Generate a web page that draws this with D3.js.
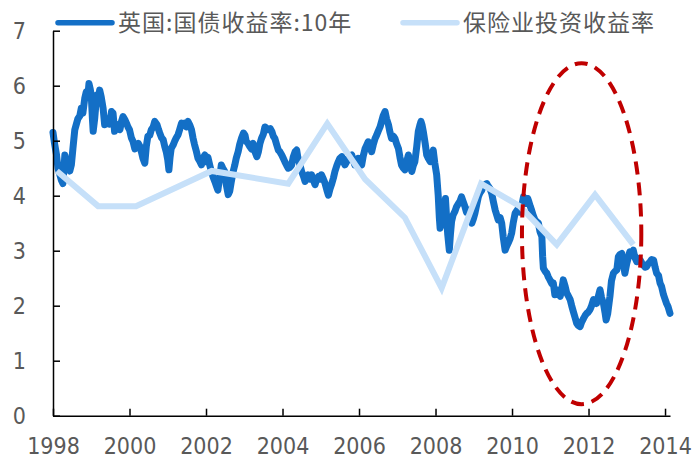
<!DOCTYPE html>
<html>
<head>
<meta charset="utf-8">
<script src="https://cdn.jsdelivr.net/npm/d3@7"></script>
<style>
  body { margin: 0; background: #fff; }
  svg { display: block; }
  .axis text { font-family: "DejaVu Sans Condensed", "Liberation Sans", sans-serif; font-size: 23px; fill: #595959; }
  .axis path, .axis line { stroke: #000; stroke-width: 1.5; }
  .legend text { font-family: "Noto Sans CJK SC", sans-serif; font-size: 23px; fill: #595959; letter-spacing: 1px; }
</style>
</head>
<body>
<svg id="chart" width="693" height="459"></svg>
<script>
// Axis ticks
const yearTicks = [1998, 2000, 2002, 2004, 2006, 2008, 2010, 2012, 2014];
const yieldTicks = [0, 1, 2, 3, 4, 5, 6, 7];

// Series names
const seriesNames = ["英国:国债收益率:10年", "保险业投资收益率"];

// UK 10-year gilt yield, [decimal year, %]
const giltYield = [
  [1998.00,5.15],[1998.04,4.95],[1998.09,4.75],[1998.13,4.50],[1998.18,4.38],[1998.22,4.28],[1998.26,4.22],
  [1998.31,4.74],[1998.35,4.62],[1998.39,4.50],[1998.44,4.45],[1998.48,4.56],[1998.52,4.85],[1998.57,5.20],
  [1998.61,5.30],[1998.65,5.40],[1998.70,5.45],[1998.74,5.59],[1998.78,5.50],[1998.83,5.77],[1998.87,5.89],
  [1998.91,5.80],[1998.94,6.04],[1998.97,5.95],[1999.00,5.83],[1999.03,5.40],[1999.05,5.17],[1999.09,5.40],
  [1999.12,5.65],[1999.15,5.83],[1999.19,5.78],[1999.22,5.92],[1999.26,5.80],[1999.31,5.59],[1999.35,5.29],
  [1999.40,5.35],[1999.44,5.40],[1999.48,5.30],[1999.53,5.53],[1999.57,5.50],[1999.61,5.17],[1999.66,5.25],
  [1999.70,5.29],[1999.75,5.20],[1999.79,5.35],[1999.83,5.44],[1999.88,5.38],[1999.92,5.32],[1999.96,5.25],
  [2000.00,5.20],[2000.05,5.05],[2000.09,4.99],[2000.14,4.85],[2000.18,4.90],[2000.23,4.95],[2000.27,4.90],
  [2000.31,4.80],[2000.35,4.68],[2000.40,4.59],[2000.44,4.90],[2000.48,5.08],[2000.53,5.10],[2000.57,5.20],
  [2000.62,5.25],[2000.66,5.35],[2000.72,5.29],[2000.76,5.20],[2000.79,5.14],[2000.84,5.05],[2000.88,5.02],
  [2000.92,4.90],[2000.96,4.80],[2001.00,4.65],[2001.03,4.47],[2001.06,4.70],[2001.09,4.86],[2001.14,4.92],
  [2001.18,4.99],[2001.22,5.05],[2001.27,5.11],[2001.31,5.20],[2001.36,5.32],[2001.40,5.28],[2001.44,5.32],
  [2001.49,5.25],[2001.53,5.35],[2001.58,5.28],[2001.62,5.20],[2001.66,5.05],[2001.70,4.93],[2001.75,4.80],
  [2001.79,4.68],[2001.84,4.62],[2001.88,4.56],[2001.92,4.68],[2001.97,4.74],[2002.01,4.62],[2002.05,4.70],
  [2002.10,4.55],[2002.14,4.44],[2002.18,4.35],[2002.23,4.26],[2002.27,4.18],[2002.31,4.10],[2002.36,4.35],
  [2002.40,4.56],[2002.44,4.50],[2002.49,4.44],[2002.53,4.20],[2002.58,4.02],[2002.62,4.08],[2002.66,4.25],
  [2002.71,4.44],[2002.75,4.55],[2002.79,4.68],[2002.84,4.80],[2002.88,4.93],[2002.93,5.05],[2002.98,5.14],
  [2003.02,5.10],[2003.05,4.99],[2003.10,4.95],[2003.14,4.90],[2003.19,4.85],[2003.23,4.95],[2003.28,4.80],
  [2003.33,4.71],[2003.37,4.80],[2003.41,4.95],[2003.45,5.04],[2003.50,5.12],[2003.54,5.25],[2003.58,5.23],
  [2003.63,5.20],[2003.68,5.22],[2003.72,5.17],[2003.76,5.08],[2003.80,5.04],[2003.85,4.92],[2003.89,4.83],
  [2003.93,4.80],[2003.98,4.74],[2004.02,4.68],[2004.06,4.62],[2004.11,4.55],[2004.15,4.50],[2004.20,4.52],
  [2004.24,4.56],[2004.28,4.70],[2004.33,4.80],[2004.37,4.83],[2004.40,4.70],[2004.43,4.62],[2004.46,4.55],
  [2004.50,4.44],[2004.55,4.35],[2004.59,4.26],[2004.63,4.33],[2004.67,4.38],[2004.72,4.30],[2004.76,4.38],
  [2004.81,4.28],[2004.85,4.20],[2004.89,4.30],[2004.94,4.35],[2004.98,4.30],[2005.02,4.38],[2005.07,4.30],
  [2005.11,4.23],[2005.16,4.10],[2005.20,4.01],[2005.24,4.12],[2005.28,4.20],[2005.33,4.32],[2005.37,4.44],
  [2005.42,4.55],[2005.46,4.62],[2005.50,4.68],[2005.55,4.71],[2005.59,4.62],[2005.63,4.56],[2005.68,4.62],
  [2005.72,4.68],[2005.76,4.72],[2005.81,4.74],[2005.85,4.65],[2005.89,4.56],[2005.94,4.62],[2005.98,4.68],
  [2006.02,4.62],[2006.07,4.56],[2006.11,4.72],[2006.16,4.86],[2006.20,4.92],[2006.24,4.98],[2006.29,4.90],
  [2006.33,4.80],[2006.37,4.92],[2006.42,5.04],[2006.46,5.10],[2006.50,5.17],[2006.55,5.25],[2006.59,5.35],
  [2006.63,5.45],[2006.68,5.53],[2006.72,5.40],[2006.77,5.29],[2006.81,5.15],[2006.85,5.04],[2006.90,5.08],
  [2006.94,5.04],[2006.98,4.95],[2007.03,4.86],[2007.07,4.70],[2007.11,4.56],[2007.16,4.50],[2007.20,4.47],
  [2007.24,4.60],[2007.29,4.74],[2007.33,4.60],[2007.38,4.44],[2007.42,4.55],[2007.46,4.62],[2007.51,4.90],
  [2007.55,5.17],[2007.59,5.28],[2007.62,5.35],[2007.65,5.28],[2007.68,5.17],[2007.73,4.95],[2007.77,4.74],
  [2007.81,4.68],[2007.86,4.62],[2007.90,4.72],[2007.94,4.83],[2007.98,4.60],[2008.03,4.38],[2008.07,4.01],
  [2008.10,3.60],[2008.12,3.41],[2008.16,3.55],[2008.20,3.65],[2008.23,3.80],[2008.26,3.95],[2008.29,3.60],
  [2008.32,3.29],[2008.36,3.01],[2008.39,3.30],[2008.42,3.53],[2008.46,3.65],[2008.51,3.72],[2008.55,3.80],
  [2008.60,3.86],[2008.64,3.90],[2008.68,3.98],[2008.73,3.88],[2008.77,3.80],[2008.81,3.70],[2008.86,3.74],
  [2008.90,3.62],[2008.95,3.50],[2008.99,3.58],[2009.03,3.68],[2009.08,3.85],[2009.12,3.98],[2009.16,4.05],
  [2009.21,4.10],[2009.25,4.18],[2009.29,4.20],[2009.34,4.22],[2009.38,4.17],[2009.43,4.12],[2009.47,4.04],
  [2009.51,3.90],[2009.56,3.74],[2009.60,3.65],[2009.64,3.56],[2009.69,3.60],[2009.73,3.50],[2009.77,3.25],
  [2009.82,3.01],[2009.86,3.08],[2009.90,3.14],[2009.95,3.22],[2009.99,3.32],[2010.03,3.50],[2010.08,3.68],
  [2010.12,3.72],[2010.17,3.77],[2010.21,3.70],[2010.25,3.80],[2010.30,3.98],[2010.34,3.90],[2010.38,3.86],
  [2010.41,3.95],[2010.44,3.89],[2010.48,3.80],[2010.51,3.74],[2010.55,3.65],[2010.60,3.56],[2010.64,3.53],
  [2010.69,3.50],[2010.73,3.35],[2010.78,3.26],[2010.80,2.90],[2010.82,2.68],[2010.87,2.62],[2010.91,2.59],
  [2010.95,2.52],[2010.99,2.47],[2011.04,2.40],[2011.08,2.41],[2011.12,2.20],[2011.17,2.29],[2011.21,2.22],
  [2011.26,2.17],[2011.30,2.30],[2011.34,2.47],[2011.39,2.35],[2011.43,2.23],[2011.47,2.18],[2011.52,2.11],
  [2011.56,2.00],[2011.60,1.90],[2011.65,1.78],[2011.69,1.68],[2011.73,1.64],[2011.78,1.62],[2011.82,1.70],
  [2011.87,1.77],[2011.91,1.82],[2011.95,1.86],[2011.99,1.88],[2012.04,1.93],[2012.08,2.00],[2012.13,2.11],
  [2012.17,2.08],[2012.21,2.04],[2012.26,2.18],[2012.30,2.29],[2012.34,2.15],[2012.39,2.04],[2012.43,1.88],
  [2012.46,1.74],[2012.50,1.85],[2012.56,2.17],[2012.60,2.45],[2012.65,2.59],[2012.70,2.63],[2012.74,2.65],
  [2012.78,2.89],[2012.82,2.93],[2012.87,2.95],[2012.91,2.75],[2012.95,2.59],[2013.00,2.77],[2013.04,2.88],
  [2013.08,2.98],[2013.12,2.95],[2013.17,3.01],[2013.21,2.88],[2013.26,2.80],[2013.30,2.86],[2013.35,2.83],
  [2013.39,2.78],[2013.43,2.74],[2013.48,2.70],[2013.52,2.71],[2013.56,2.76],[2013.61,2.80],[2013.65,2.84],
  [2013.70,2.83],[2013.74,2.70],[2013.78,2.59],[2013.83,2.55],[2013.87,2.41],[2013.91,2.35],[2013.96,2.20],
  [2014.00,2.12],[2014.04,2.04],[2014.08,1.98],[2014.13,1.86]
];

// Insurance industry investment yield (annual observations)
const insuranceYears = [1998.10, 1999.18, 2000.17, 2002.15, 2004.15, 2005.17, 2006.16,
                        2007.20, 2008.16, 2009.19, 2010.20, 2011.17, 2012.17, 2013.17];
const insuranceYield = [4.45, 3.81, 3.81, 4.45, 4.22, 5.31, 4.30,
                        3.60, 2.32, 4.22, 3.81, 3.11, 4.02, 3.11];

// Highlighted period: ellipse centre and radii in data units (years, %)
const highlightCentre = [2011.82, 3.31];
const highlightRadii = [1.56, 3.10];

const svg = d3.select("#chart");
const x = d3.scaleLinear().domain([1998, 2014.13]).range([53, 670]);
const y = d3.scaleLinear().domain([0, 7]).range([415.7, 30.7]);

const line = d3.line().x(d => x(d[0])).y(d => y(d[1]));

// UK gilt yield (dark blue, drawn first)
svg.append("path")
  .datum(giltYield)
  .attr("d", line)
  .attr("fill", "none")
  .attr("stroke", "#136FC6")
  .attr("stroke-width", 7)
  .attr("stroke-linejoin", "round")
  .attr("stroke-linecap", "round");

// Insurance investment yield (light blue, on top)
svg.append("path")
  .datum(insuranceYears.map((yr, i) => [yr, insuranceYield[i]]))
  .attr("d", line)
  .attr("fill", "none")
  .attr("stroke", "#C6E0F9")
  .attr("stroke-width", 6)
  .attr("stroke-linejoin", "miter")
  .attr("stroke-linecap", "butt");

// Axes with inward ticks
svg.append("g")
  .attr("class", "axis")
  .attr("transform", `translate(0,${y(0)})`)
  .call(d3.axisBottom(x).tickValues(yearTicks).tickFormat(d3.format("d"))
        .tickSizeInner(-7).tickSizeOuter(0).tickPadding(22));

svg.append("g")
  .attr("class", "axis")
  .attr("transform", `translate(${x(1998)},0)`)
  .call(d3.axisLeft(y).tickValues(yieldTicks).tickFormat(d3.format("d"))
        .tickSizeInner(-7).tickSizeOuter(0).tickPadding(27));

// Dashed ellipse marking the low-yield period
const cx = x(highlightCentre[0]), cy = y(highlightCentre[1]);
svg.append("ellipse")
  .attr("cx", cx)
  .attr("cy", cy)
  .attr("rx", x(highlightCentre[0] + highlightRadii[0]) - cx)
  .attr("ry", cy - y(highlightCentre[1] + highlightRadii[1]))
  .attr("fill", "none")
  .attr("stroke", "#C00000")
  .attr("stroke-width", 4)
  .attr("stroke-dasharray", "13 8");

// Legend
const legend = svg.append("g").attr("class", "legend");
const legendItems = [
  { name: seriesNames[0], color: "#136FC6", x0: 58 },
  { name: seriesNames[1], color: "#C6E0F9", x0: 403 }
];
legendItems.forEach(item => {
  legend.append("line")
    .attr("x1", item.x0).attr("x2", item.x0 + 54)
    .attr("y1", 22.7).attr("y2", 22.7)
    .attr("stroke", item.color)
    .attr("stroke-width", 5.5)
    .attr("stroke-linecap", "round");
  legend.append("text")
    .attr("x", item.x0 + 60)
    .attr("y", 22.7)
    .attr("dy", "0.35em")
    .text(item.name);
});
</script>
</body>
</html>
